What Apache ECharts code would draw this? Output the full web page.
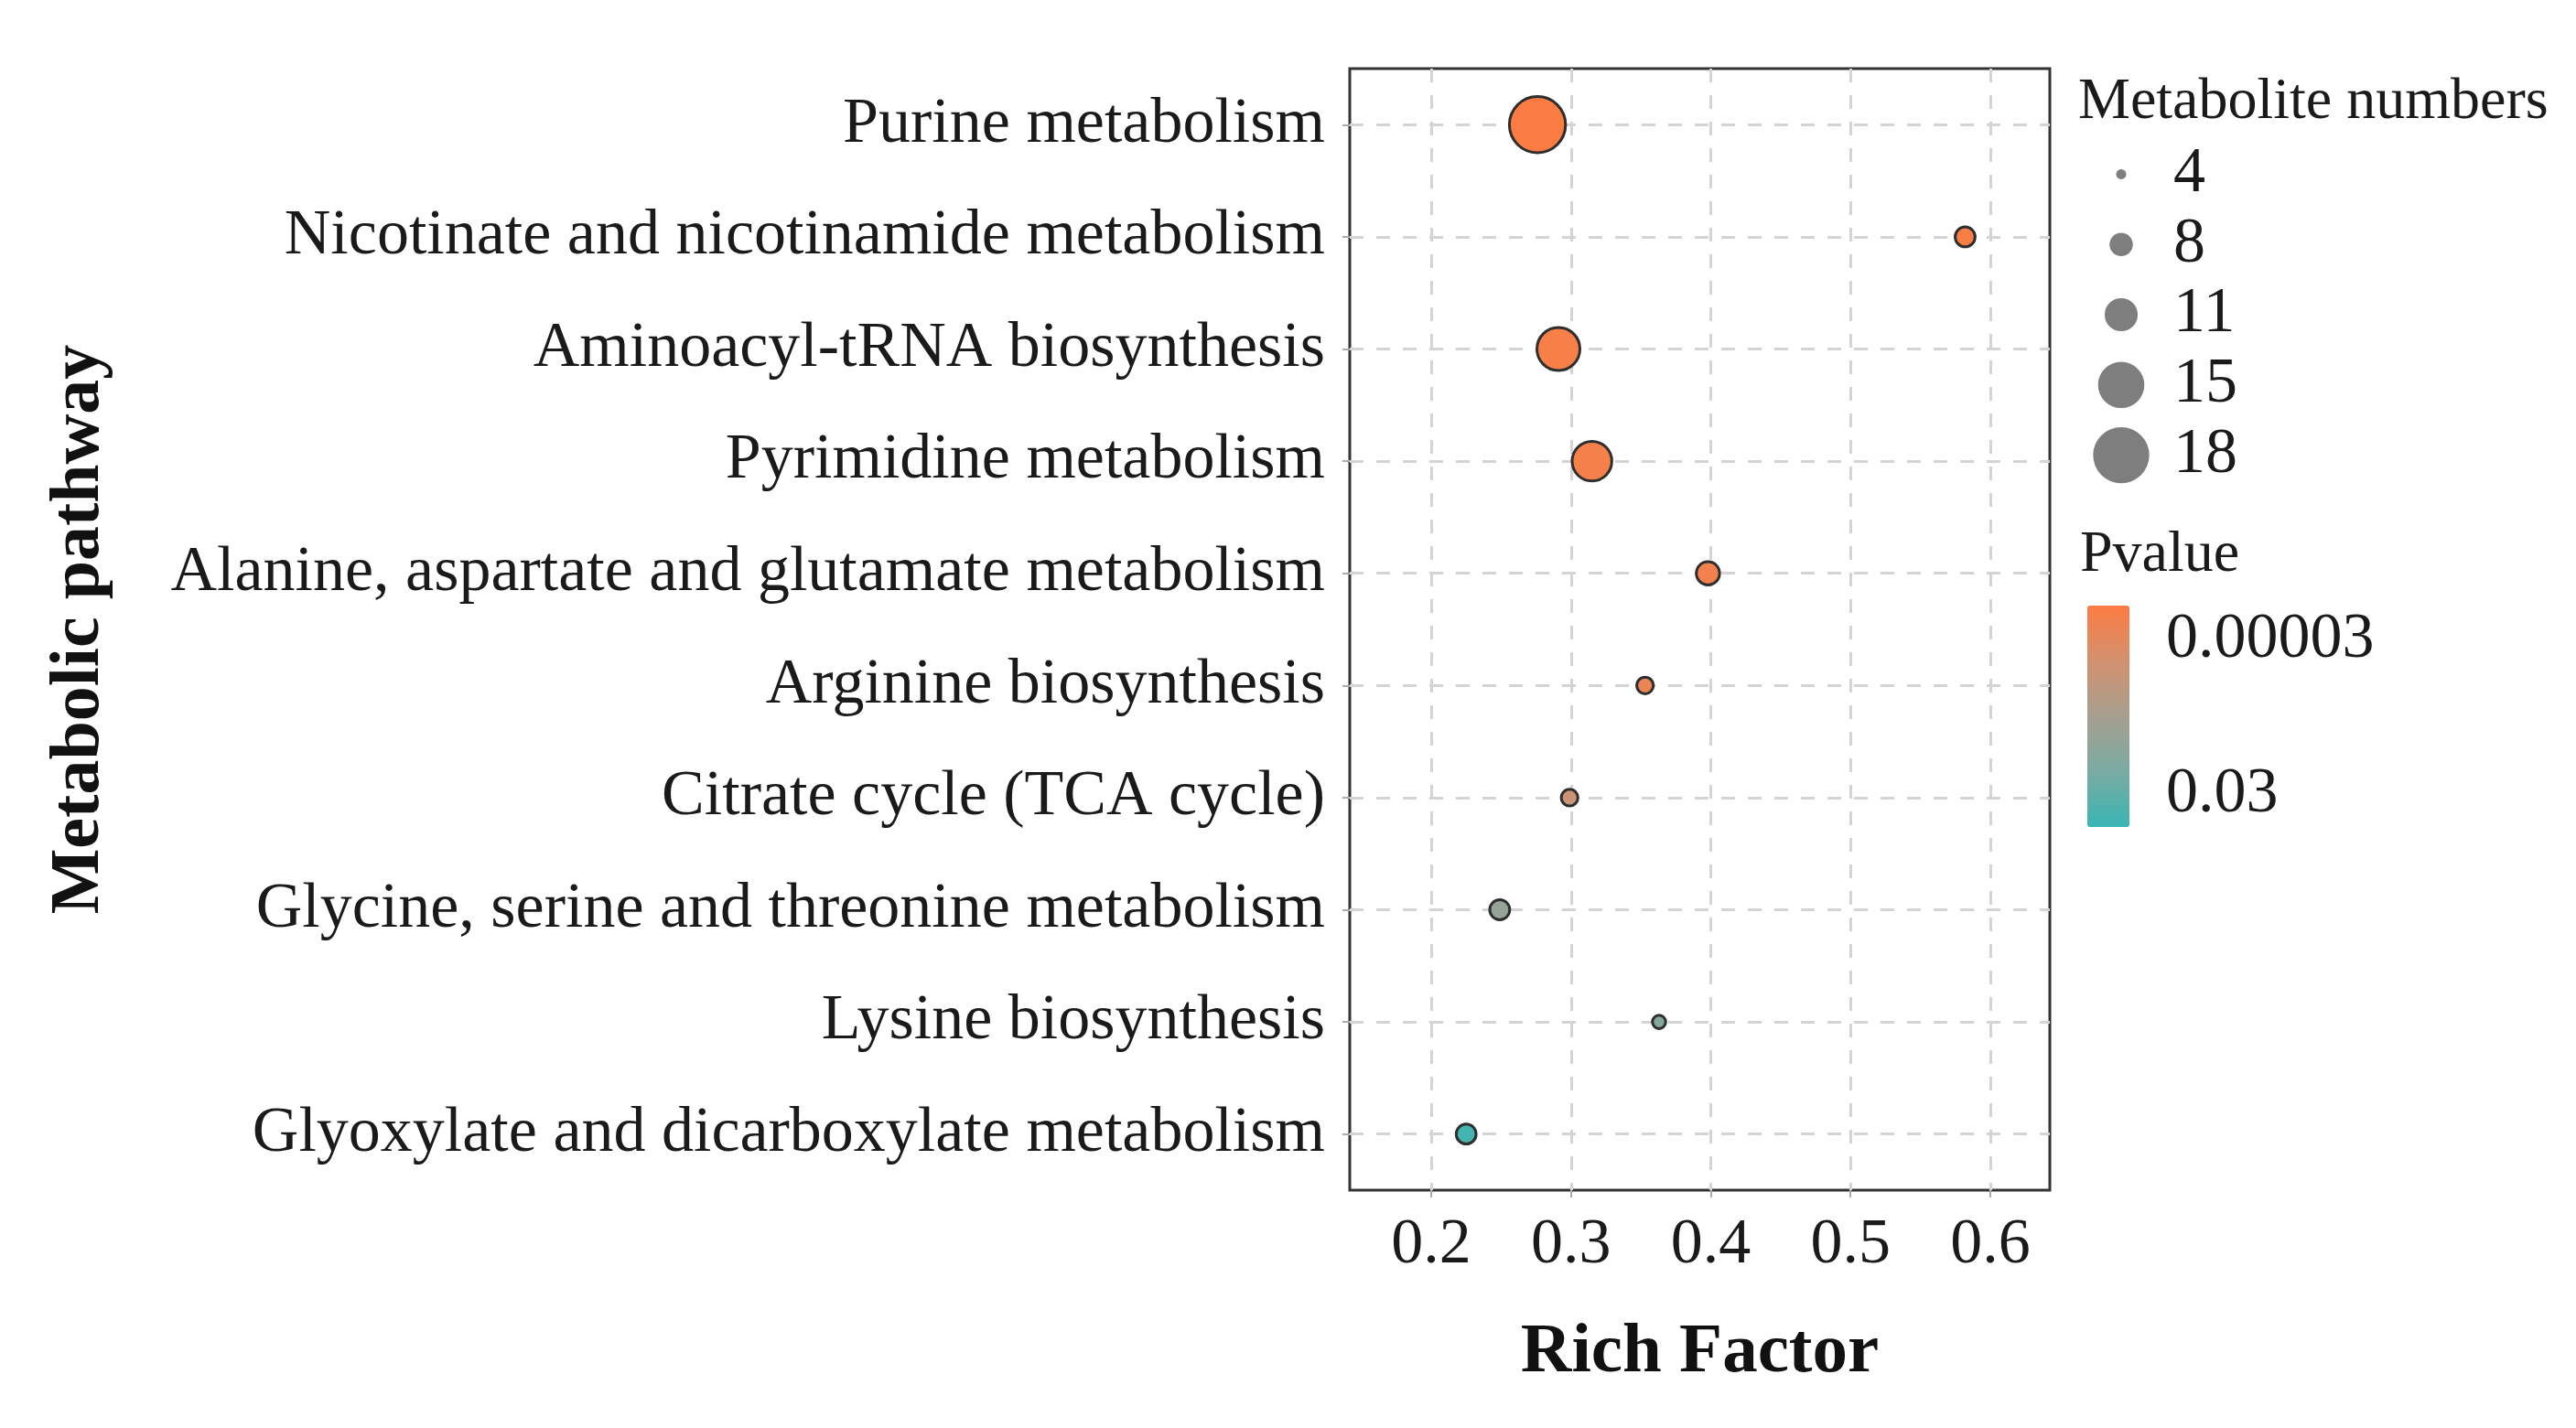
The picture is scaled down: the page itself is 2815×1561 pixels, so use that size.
<!DOCTYPE html>
<html><head><meta charset="utf-8">
<script src="https://cdn.jsdelivr.net/npm/echarts@6/dist/echarts.min.js"></script>
<style>html,body{margin:0;padding:0;background:#fff}#c{width:2815px;height:1561px}</style>
</head><body><div id="c"></div>
<script>
const pathways = [
  'Purine metabolism',
  'Nicotinate and nicotinamide metabolism',
  'Aminoacyl-tRNA biosynthesis',
  'Pyrimidine metabolism',
  'Alanine, aspartate and glutamate metabolism',
  'Arginine biosynthesis',
  'Citrate cycle (TCA cycle)',
  'Glycine, serine and threonine metabolism',
  'Lysine biosynthesis',
  'Glyoxylate and dicarboxylate metabolism'
];
const richFactor = [0.276, 0.582, 0.291, 0.315, 0.398, 0.353, 0.299, 0.249, 0.363, 0.225];
const metaboliteNumbers = [18, 7, 14, 13, 8, 6, 6, 7, 5, 7];
const pValues = [7e-6, 8e-6, 9e-6, 1e-5, 1.2e-5, 1.8e-5, 1.3e-4, 2.4e-3, 6.5e-3, 0.09];
const xTicks = [0.2, 0.3, 0.4, 0.5, 0.6];
const sizeBreaks = [4, 8, 11, 15, 18];
const pvalueBreaks = [0.00003, 0.03];
const pvalueBreakLabels = ['0.00003', '0.03'];

const FONT = 'Liberation Serif';
const TXT = '#1a1a1a';
const sizeOf = v => 11 + 3.6 * (v - 4);

// colour scale in -log10(p)
const cMin = 0.90, cMax = 5.18;
const barLeft = 2281, barTop = 662, barW = 46, barH = 242;
const nlog = p => -Math.log10(p);

const chart = echarts.init(document.getElementById('c'), null, {renderer: 'canvas'});

const mainData = pathways.map((name, i) => [richFactor[i], name, metaboliteNumbers[i], pValues[i], nlog(pValues[i])]);
const legendData = sizeBreaks.map(v => [0, String(v), v]);

const graphics = [
  {type: 'text', left: 2271, top: 80, style: {text: 'Metabolite numbers', font: '64px "' + FONT + '"', fill: TXT}},
  {type: 'text', left: 2273, top: 575, style: {text: 'Pvalue', font: '64px "' + FONT + '"', fill: TXT}}
];
pvalueBreaks.forEach((p, i) => {
  const y = barTop + (cMax - nlog(p)) / (cMax - cMin) * barH;
  graphics.push({type: 'text', x: 2367, y: y, style: {text: pvalueBreakLabels[i], font: '70px "' + FONT + '"', fill: TXT, textVerticalAlign: 'middle', textAlign: 'left'}});
});

chart.setOption({
  animation: false,
  backgroundColor: '#fff',
  textStyle: {fontFamily: FONT},
  grid: [
    {left: 1475, top: 75, width: 765, height: 1226, show: true, borderColor: '#333', borderWidth: 3, backgroundColor: '#fff', containLabel: false},
    {left: 2290, top: 152, width: 56, height: 384, show: false}
  ],
  xAxis: [
    {
      type: 'value', gridIndex: 0, min: 0.1417, max: 0.6426,
      name: 'Rich Factor', nameLocation: 'middle', nameGap: 140,
      nameTextStyle: {fontFamily: FONT, fontSize: 77, fontWeight: 'bold', color: '#111'},
      axisLine: {show: false},
      axisTick: {show: true, length: 8, lineStyle: {color: '#aaa', width: 2}, customValues: xTicks},
      axisLabel: {customValues: xTicks, fontFamily: FONT, fontSize: 70, color: TXT, margin: 26, formatter: v => v.toFixed(1)},
      splitLine: {show: true, lineStyle: {color: '#d4d4d4', width: 3, type: [15, 14]}}
    },
    {type: 'value', gridIndex: 1, min: -1, max: 1, show: false}
  ],
  yAxis: [
    {
      type: 'category', gridIndex: 0, data: pathways, inverse: true, boundaryGap: true,
      name: 'Metabolic pathway', nameLocation: 'middle', nameGap: 1350,
      nameTextStyle: {fontFamily: FONT, fontSize: 76, fontWeight: 'bold', color: '#111'},
      axisLine: {show: false},
      axisTick: {show: true, alignWithLabel: true, length: 8, lineStyle: {color: '#aaa', width: 2}},
      axisLabel: {fontFamily: FONT, fontSize: 70, color: TXT, margin: 27, interval: 0},
      splitLine: {show: true, alignWithLabel: true, lineStyle: {color: '#d4d4d4', width: 3, type: [15, 14]}}
    },
    {
      type: 'category', gridIndex: 1, data: sizeBreaks.map(String), inverse: true, position: 'right',
      axisLine: {show: false}, axisTick: {show: false}, splitLine: {show: false},
      axisLabel: {fontFamily: FONT, fontSize: 70, color: TXT, margin: 29, align: 'left', interval: 0}
    }
  ],
  visualMap: {
    type: 'continuous', seriesIndex: 0, dimension: 4, min: cMin, max: cMax,
    orient: 'vertical', left: barLeft, top: barTop, itemWidth: barW, itemHeight: barH,
    padding: 0, calculable: false, hoverLink: false, text: null, showLabel: false,
    inRange: {color: ['#3AB5B3', '#7AABA2', '#A69F90', '#D3916F', '#FC7C42']}
  },
  series: [
    {
      type: 'scatter', xAxisIndex: 0, yAxisIndex: 0, data: mainData,
      symbolSize: d => sizeOf(d[2]),
      itemStyle: {borderColor: '#2e2e2e', borderWidth: 3, opacity: 1},
      silent: true
    },
    {
      type: 'scatter', xAxisIndex: 1, yAxisIndex: 1, data: legendData,
      symbolSize: d => sizeOf(d[2]),
      itemStyle: {color: '#5e5e5e', borderWidth: 0},
      silent: true
    }
  ],
  graphic: graphics
});
</script></body></html>
